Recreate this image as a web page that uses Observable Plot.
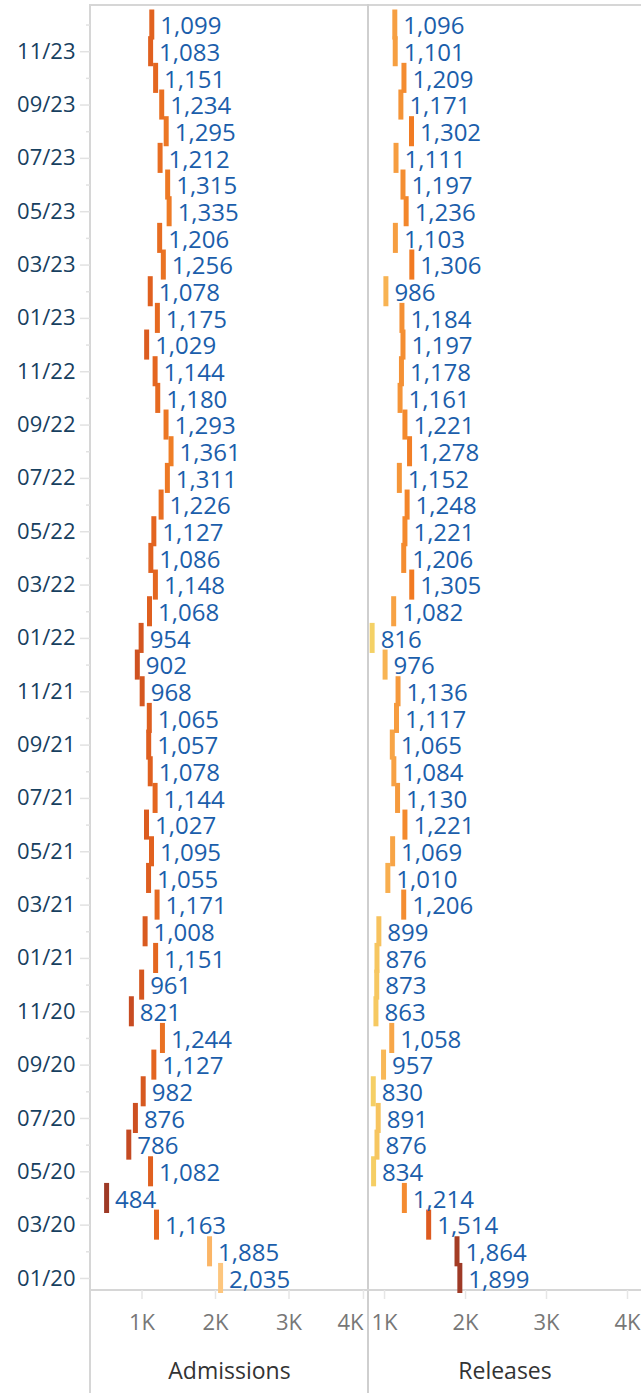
<!DOCTYPE html>
<html>
<head>
<meta charset="utf-8">
<script src="https://cdn.jsdelivr.net/npm/d3@7"></script>
<script src="https://cdn.jsdelivr.net/npm/@observablehq/plot@0.6"></script>
<style>
  html, body { margin: 0; padding: 0; background: #fff; }
  #wrap { position: relative; width: 641px; height: 1393px; overflow: hidden; font-family: "Open Sans", sans-serif; }
  .line { position: absolute; background: #d6d6d6; }
  #wrap svg { position: absolute; top: 0; }
</style>
</head>
<body>
<div id="wrap">
  <div class="line" style="left:90px;top:4px;width:551px;height:2px"></div>
  <div class="line" style="left:89px;top:4px;width:2px;height:1389px"></div>
  <div class="line" style="left:367px;top:4px;width:2px;height:1389px;background:#cfcfcf"></div>
  <div class="line" style="left:90px;top:1289px;width:551px;height:2px"></div>
</div>
<script>
// Months, chronological
const months = [
  "01/20","02/20","03/20","04/20","05/20","06/20","07/20","08/20","09/20","10/20","11/20","12/20",
  "01/21","02/21","03/21","04/21","05/21","06/21","07/21","08/21","09/21","10/21","11/21","12/21",
  "01/22","02/22","03/22","04/22","05/22","06/22","07/22","08/22","09/22","10/22","11/22","12/22",
  "01/23","02/23","03/23","04/23","05/23","06/23","07/23","08/23","09/23","10/23","11/23","12/23"
];
const admissions = [
  2035,1885,1163,484,1082,786,876,982,1127,1244,821,961,
  1151,1008,1171,1055,1095,1027,1144,1078,1057,1065,968,902,
  954,1068,1148,1086,1127,1226,1311,1361,1293,1180,1144,1029,
  1175,1078,1256,1206,1335,1315,1212,1295,1234,1151,1083,1099
];
const releases = [
  1899,1864,1514,1214,834,876,891,830,957,1058,863,873,
  876,899,1206,1010,1069,1221,1130,1084,1065,1117,1136,976,
  816,1082,1305,1206,1221,1248,1152,1278,1221,1161,1178,1197,
  1184,986,1306,1103,1236,1197,1111,1302,1171,1209,1101,1096
];
const xTicks = [1000, 2000, 3000, 4000];
const measureNames = ["Admissions", "Releases"];

// Admissions: low values dark; Releases: high values dark
const admColors = ["#9e3a26", "#c54a22", "#e2621f", "#f28428", "#f9a24c", "#fdc67e"];
const relColors = ["#f4d166", "#f8be5c", "#f8aa4c", "#f5983b", "#f3852a", "#ef701b", "#e2621f", "#d65322", "#c54923", "#b14223", "#9e3a26"];

const yOrder = months.slice().reverse();
const labeled = months.filter((m, i) => i % 2 === 0);
const unlabeled = months.filter((m, i) => i % 2 === 1);
const fmt = d3.format(",");
const kfmt = d => `${d / 1000}K`;

function panel({values, name, width, marginLeft, xDomain, colors, withY, lastAnchorEnd, left}) {
  const data = months.map((m, i) => ({m, v: values[i]}));
  const marks = [];
  if (withY) {
    marks.push(Plot.axisY({ticks: labeled, tickSize: 10, tickPadding: 5, stroke: "#e2e2e2", strokeWidth: 1.5,
      fill: "#17405f", fontSize: 22, label: null}));
    marks.push(Plot.axisY({ticks: unlabeled, tickSize: 4, tickFormat: () => "", stroke: "#e2e2e2", strokeWidth: 1.5, label: null}));
  }
  if (lastAnchorEnd) {
    marks.push(Plot.axisX({ticks: xTicks.slice(0, 3), tickFormat: kfmt, tickSize: 9, tickPadding: 15,
      stroke: "#e6e6e6", strokeWidth: 1.5, fill: "#777", fontSize: 22, label: null}));
    marks.push(Plot.axisX({ticks: xTicks.slice(3), tickFormat: kfmt, tickSize: 9, tickPadding: 15, textAnchor: "end", dx: 1,
      stroke: "#e6e6e6", strokeWidth: 1.5, fill: "#777", fontSize: 22, label: null}));
  } else {
    marks.push(Plot.axisX({ticks: xTicks, tickFormat: kfmt, tickSize: 9, tickPadding: 15,
      stroke: "#e6e6e6", strokeWidth: 1.5, fill: "#777", fontSize: 22, label: null}));
  }
  marks.push(Plot.tickX(data, {x: "v", y: "m", stroke: "v", strokeWidth: 5, dx: 2.5, insetTop: -1.7, insetBottom: -1.7}));
  marks.push(Plot.text(data, {x: "v", y: "m", text: d => fmt(d.v), textAnchor: "start", dx: 11, dy: 1.5, fill: "#1b5eab", fontSize: 24}));
  marks.push(Plot.text([name], {frameAnchor: "bottom", dy: 88, fontSize: 23, fill: "#333"}));
  const svg = Plot.plot({
    width, height: 1393,
    marginLeft, marginRight: 0, marginTop: 5, marginBottom: 103,
    style: {fontFamily: "Open Sans, sans-serif", fontSize: "22px", background: "transparent", overflow: "visible"},
    x: {domain: xDomain},
    y: withY
      ? {type: "band", domain: yOrder, padding: 0, insetTop: 6.2, insetBottom: -1.3}
      : {type: "band", domain: yOrder, padding: 0, insetTop: 6.2, insetBottom: -1.3, axis: null},
    color: {type: "linear", domain: d3.extent(values), interpolate: d3.piecewise(d3.interpolateRgb, colors)},
    marks
  });
  svg.style.left = left + "px";
  document.getElementById("wrap").appendChild(svg);
}

panel({values: admissions, name: measureNames[0], width: 368, marginLeft: 90, xDomain: [299, 4082],
  colors: admColors, withY: true, lastAnchorEnd: true, left: 0});
panel({values: releases, name: measureNames[1], width: 273, marginLeft: 0, xDomain: [802, 4173],
  colors: relColors, withY: false, lastAnchorEnd: false, left: 368});
</script>
</body>
</html>
